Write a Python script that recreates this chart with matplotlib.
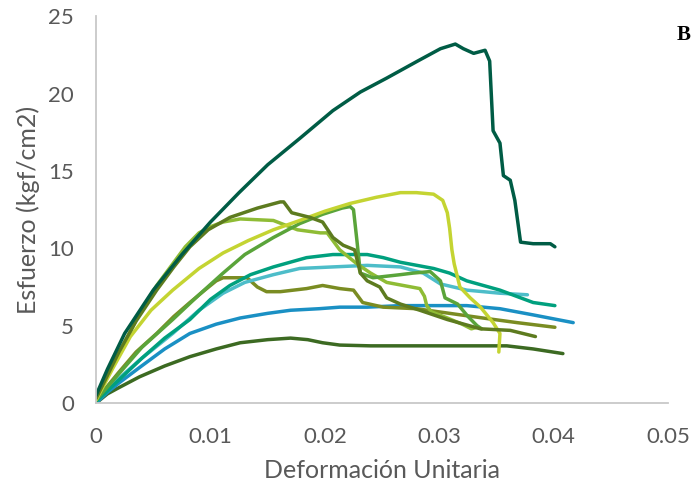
import matplotlib
matplotlib.use("Agg")
import matplotlib.pyplot as plt

# Stress-strain curves (strain, stress in kgf/cm2) for each specimen
s1_x = [0, 0.001, 0.0025, 0.005, 0.0075, 0.010, 0.0125, 0.015, 0.0178, 0.0207, 0.0231, 0.0254,
        0.0281, 0.0301, 0.0314, 0.0321, 0.0330, 0.0340, 0.0344, 0.0347, 0.0353, 0.0356,
        0.0362, 0.0366, 0.0371, 0.0382, 0.0397, 0.0401]
s1_y = [0.5, 2.2, 4.5, 7.3, 9.6, 11.7, 13.6, 15.4, 17.1, 18.9, 20.1, 21.0,
        22.1, 22.9, 23.2, 22.9, 22.6, 22.8, 22.1, 17.6, 16.8, 14.7,
        14.4, 13.1, 10.4, 10.3, 10.3, 10.1]

s2_x = [0, 0.0015, 0.003, 0.0048, 0.0067, 0.009, 0.0111, 0.0133, 0.0155, 0.0178, 0.020,
        0.0222, 0.0245, 0.0266, 0.028, 0.0295, 0.0303, 0.0307, 0.0309, 0.0311, 0.0313,
        0.0318, 0.0327, 0.0336, 0.0347, 0.0353, 0.0352]
s2_y = [0.2, 2.3, 4.3, 6.0, 7.3, 8.7, 9.7, 10.5, 11.2, 11.8, 12.4,
        12.9, 13.3, 13.6, 13.6, 13.5, 13.1, 12.3, 11.3, 9.9, 9.0,
        7.5, 6.8, 6.2, 5.2, 4.5, 3.3]

s3_x = [0, 0.002, 0.004, 0.0067, 0.009, 0.0111, 0.013, 0.0155, 0.0178, 0.0198, 0.0215,
        0.0222, 0.0225, 0.0228, 0.0231, 0.0242, 0.0266, 0.0277, 0.0292, 0.0301, 0.0305,
        0.0316, 0.0325, 0.0333, 0.0337]
s3_y = [0.2, 1.9, 3.6, 5.4, 7.0, 8.4, 9.6, 10.7, 11.6, 12.2, 12.6,
        12.7, 12.5, 10.5, 8.4, 8.1, 8.3, 8.4, 8.5, 7.9, 6.8,
        6.4, 5.6, 5.0, 4.8]

s4_x = [0, 0.002, 0.0035, 0.0053, 0.0068, 0.0082, 0.0098, 0.0117, 0.0141, 0.0161, 0.0164,
        0.0171, 0.0187, 0.0198, 0.0207, 0.0216, 0.0226, 0.0231, 0.0237, 0.0248, 0.0254,
        0.0266, 0.0283, 0.0307, 0.0336, 0.0362, 0.0384]
s4_y = [0.3, 3.3, 5.3, 7.3, 8.8, 10.1, 11.2, 12.0, 12.6, 13.0, 13.0,
        12.3, 12.0, 11.7, 10.7, 10.2, 9.9, 8.4, 7.9, 7.5, 6.8,
        6.4, 6.0, 5.4, 4.8, 4.7, 4.3]

s5_x = [0, 0.002, 0.0038, 0.0053, 0.0067, 0.0078, 0.009, 0.0100, 0.0111, 0.0126, 0.0155,
        0.0176, 0.0196, 0.0202, 0.0213, 0.0228, 0.0240, 0.0254, 0.0283, 0.0287, 0.0289,
        0.0293, 0.0307, 0.0320, 0.0328, 0.0333]
s5_y = [0.4, 3.2, 5.8, 7.6, 9.0, 10.1, 11.0, 11.4, 11.7, 11.9, 11.8,
        11.2, 11.0, 11.0, 9.9, 9.0, 8.4, 7.8, 7.4, 6.9, 6.3,
        5.9, 5.5, 5.1, 4.8, 4.9]

s6_x = [0, 0.002, 0.004, 0.006, 0.0082, 0.010, 0.0117, 0.0135, 0.0155, 0.0184, 0.0207,
        0.0237, 0.0251, 0.0266, 0.0295, 0.0309, 0.0324, 0.0353, 0.0382, 0.0401]
s6_y = [0.1, 1.5, 2.9, 4.2, 5.4, 6.7, 7.6, 8.3, 8.8, 9.4, 9.6,
        9.6, 9.4, 9.1, 8.7, 8.4, 7.9, 7.3, 6.5, 6.3]

s7_x = [0, 0.002, 0.004, 0.0067, 0.009, 0.0111, 0.013, 0.0155, 0.0178, 0.0207, 0.0237,
        0.0266, 0.0286, 0.0301, 0.0324, 0.0353, 0.0377]
s7_y = [0.1, 1.6, 2.9, 4.5, 6.0, 7.1, 7.8, 8.3, 8.7, 8.8, 8.9,
        8.8, 8.4, 7.7, 7.3, 7.1, 7.0]

s8_x = [0, 0.002, 0.0035, 0.0053, 0.0068, 0.0082, 0.0095, 0.0105, 0.0111, 0.0132, 0.0141,
        0.0149, 0.0161, 0.0184, 0.0198, 0.0213, 0.0225, 0.0233, 0.0251, 0.0280, 0.0309,
        0.0338, 0.0368, 0.0401]
s8_y = [0.2, 2.0, 3.3, 4.5, 5.6, 6.5, 7.3, 7.9, 8.1, 8.1, 7.5,
        7.2, 7.2, 7.4, 7.6, 7.4, 7.3, 6.5, 6.2, 6.1, 5.8,
        5.5, 5.2, 4.9]

s9_x = [0, 0.001, 0.002, 0.0038, 0.006, 0.0082, 0.0105, 0.0126, 0.015, 0.0170, 0.0195,
        0.0213, 0.0237, 0.0266, 0.0295, 0.0324, 0.0353, 0.0382, 0.0417]
s9_y = [0.0, 0.7, 1.3, 2.3, 3.5, 4.5, 5.1, 5.5, 5.8, 6.0, 6.1,
        6.2, 6.2, 6.3, 6.3, 6.3, 6.1, 5.7, 5.2]

s10_x = [0, 0.001, 0.002, 0.0038, 0.006, 0.0082, 0.0105, 0.0126, 0.015, 0.0170, 0.0185,
         0.0198, 0.0213, 0.024, 0.0266, 0.0324, 0.0359, 0.0382, 0.0408]
s10_y = [0.0, 0.6, 1.0, 1.7, 2.4, 3.0, 3.5, 3.9, 4.1, 4.2, 4.1,
         3.9, 3.75, 3.7, 3.7, 3.7, 3.7, 3.5, 3.2]

series = [
    (s10_x, s10_y, "#3c6a22"),
    (s9_x, s9_y, "#1a90c4"),
    (s8_x, s8_y, "#7a8c22"),
    (s7_x, s7_y, "#4dbdc9"),
    (s6_x, s6_y, "#00a07e"),
    (s5_x, s5_y, "#8fbc35"),
    (s3_x, s3_y, "#5aa43a"),
    (s2_x, s2_y, "#c4d432"),
    (s4_x, s4_y, "#5d7b1f"),
    (s1_x, s1_y, "#005c45"),
]

plt.rcParams["font.family"] = ["Lato", "DejaVu Sans"]

fig = plt.figure(figsize=(6.96, 4.91), dpi=100)
ax = fig.add_axes([0.138, 0.179, 0.822, 0.788])

for xs, ys, c in series:
    ax.plot(xs, ys, color=c, lw=2.5, solid_joinstyle="round", solid_capstyle="round")

ax.set_xlim(0, 0.05)
ax.set_ylim(0, 25)
ax.set_xticks([0, 0.01, 0.02, 0.03, 0.04, 0.05])
ax.set_xticklabels(["0", "0.01", "0.02", "0.03", "0.04", "0.05"])
ax.set_yticks([0, 5, 10, 15, 20, 25])
ax.tick_params(length=0, labelsize=16, labelcolor="#595959")
ax.tick_params(axis="x", pad=17)
ax.tick_params(axis="y", pad=16)

for side in ("top", "right"):
    ax.spines[side].set_visible(False)
for side in ("left", "bottom"):
    ax.spines[side].set_color("#c8c8c8")
    ax.spines[side].set_linewidth(1.3)

ax.set_xlabel("Deformación Unitaria", fontsize=18, color="#595959", labelpad=9)
ax.set_ylabel("Esfuerzo (kgf/cm2)", fontsize=18, color="#595959", labelpad=6)

fig.text(0.993, 0.928, "B", family="Liberation Serif", fontweight="bold",
         fontsize=15, ha="right", va="center", color="black")

fig.savefig("out.png", dpi=100)
